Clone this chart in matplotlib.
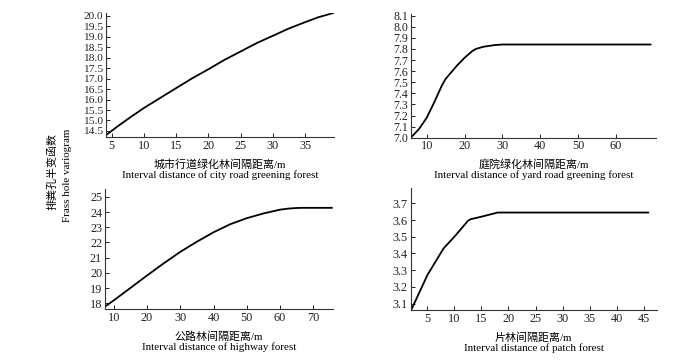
import matplotlib
matplotlib.use("Agg")
import matplotlib.pyplot as plt
import numpy as np

plt.rcParams['font.family'] = ['Liberation Serif', 'Noto Sans CJK SC', 'DejaVu Sans']

# Panel data
city_x = [4.1, 6, 8, 10, 12, 15, 17.5, 20, 22.5, 25, 27.5, 30, 32.5, 35, 37, 39.5]
city_y = [14.3, 14.74, 15.18, 15.6, 15.98, 16.55, 17.02, 17.45, 17.9, 18.3, 18.7, 19.05, 19.4, 19.7, 19.93, 20.15]

yard_x = [5.8, 8, 10, 12, 14, 15, 18, 20, 21, 22, 23, 25, 28, 30, 69.4]
yard_y = [7.0, 7.08, 7.18, 7.32, 7.47, 7.53, 7.65, 7.72, 7.75, 7.78, 7.8, 7.82, 7.835, 7.84, 7.84]

hwy_x = [7.4, 10, 15, 20, 25, 30, 35, 40, 45, 50, 55, 60, 62.5, 65, 67, 75.8]
hwy_y = [17.78, 18.18, 19.0, 19.82, 20.62, 21.38, 22.05, 22.67, 23.2, 23.6, 23.91, 24.16, 24.23, 24.27, 24.28, 24.28]

patch_x = [2, 5, 8, 10, 12.5, 13, 15, 18, 46]
patch_y = [3.06, 3.27, 3.43, 3.5, 3.595, 3.605, 3.62, 3.645, 3.645]

cn_labels = ["城市行道绿化林间隔距离/m", "庭院绿化林间隔距离/m", "公路林间隔距离/m", "片林间隔距离/m"]
en_labels = ["Interval distance of city road greening forest",
             "Interval distance of yard road greening forest",
             "Interval distance of highway forest",
             "Interval distance of patch forest"]

fig = plt.figure(figsize=(7, 3.62), dpi=100)

W, H = 700, 362
def rect(l, r, t, b):
    return [l / W, 1 - b / H, (r - l) / W, (b - t) / H]

panels = [
    dict(rect=rect(106, 334, 13, 137), x=city_x, y=city_y, xlim=(4.1, 39.5), ylim=(14.21, 20.14),
         xt=np.arange(5, 36, 5), yt=np.arange(14.5, 20.01, 0.5), yfmt="{:.1f}", xfmt="{:.0f}", ys=8.2),
    dict(rect=rect(410.7, 656, 14, 137.7), x=yard_x, y=yard_y, xlim=(5.77, 70.6), ylim=(7.0, 8.115),
         xt=np.arange(10, 61, 10), yt=np.arange(7.0, 8.11, 0.1), yfmt="{:.1f}", xfmt="{:.0f}", ys=8.6),
    dict(rect=rect(105, 332.7, 189.3, 309.3), x=hwy_x, y=hwy_y, xlim=(7.4, 75.8), ylim=(17.6, 25.5),
         xt=np.arange(10, 71, 10), yt=np.arange(18, 26, 1), yfmt="{:.0f}", xfmt="{:.0f}", ys=8.8),
    dict(rect=rect(410.7, 656.7, 188.3, 310.3), x=patch_x, y=patch_y, xlim=(1.93, 47.4), ylim=(3.06, 3.79),
         xt=np.arange(5, 46, 5), yt=np.arange(3.1, 3.71, 0.1), yfmt="{:.1f}", xfmt="{:.0f}", ys=8.8),
]

for i, p in enumerate(panels):
    ax = fig.add_axes(p['rect'])
    ax.plot(p['x'], p['y'], color='black', lw=1.3, solid_capstyle='butt')
    ax.set_xlim(*p['xlim'])
    ax.set_ylim(*p['ylim'])
    ax.set_xticks(p['xt'])
    ax.set_xticklabels([p['xfmt'].format(v) for v in p['xt']])
    ax.set_yticks(p['yt'])
    ax.set_yticklabels([p['yfmt'].format(v) for v in p['yt']])
    for s in ['top', 'right']:
        ax.spines[s].set_visible(False)
    for s in ['left', 'bottom']:
        ax.spines[s].set_color('#333333')
        ax.spines[s].set_linewidth(0.8)
    ax.tick_params(direction='in', length=3, width=0.7, labelsize=8.8, pad=2, colors='#222222')
    ax.tick_params(axis='y', labelsize=p['ys'])
    ax.set_xlabel(cn_labels[i] + "\n" + en_labels[i], fontsize=7.9, linespacing=1.05, labelpad=5)

fig.text(52 / W, 1 - 172 / H, "排粪孔半变函数", rotation=90, ha='center', va='center', fontsize=7.9,
         family=['Noto Sans CJK SC', 'DejaVu Sans'])
fig.text(67 / W, 1 - 175 / H, "Frass hole variogram", rotation=90, ha='center', va='center', fontsize=7.9)

fig.savefig("out.png", dpi=100)
